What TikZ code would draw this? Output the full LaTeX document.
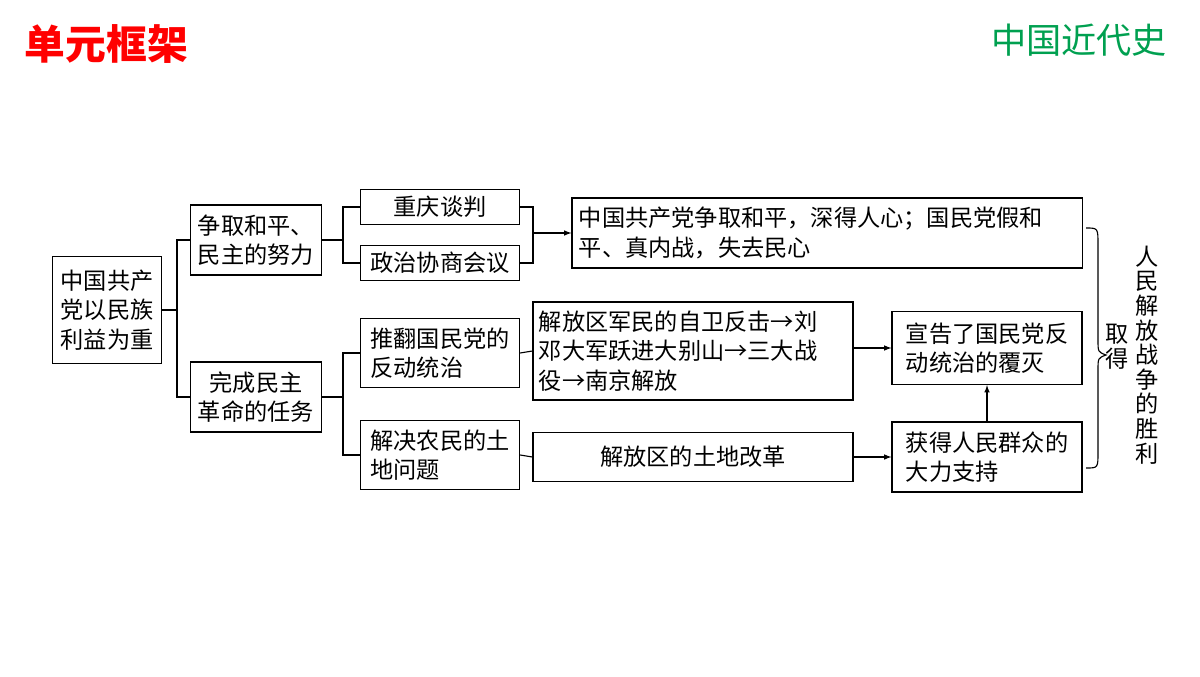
\documentclass[tikz,border=0pt]{standalone}
\usepackage{fontspec}
\setmainfont{Noto Sans CJK SC}
\newfontfamily\cjk{Noto Sans CJK SC}
\tikzset{>=latex}
\tikzset{
  box/.style={draw=black, thick, fill=white, align=left, inner sep=2pt,
    font=\fontsize{16.5}{21}\selectfont},
  link/.style={draw=black, thick},
}
\begin{document}
\begin{tikzpicture}[x=0.025cm, y=-0.025cm]
  \useasboundingbox (0,0) rectangle (1200,676);
  \node[font=\fontsize{29}{32}\selectfont\bfseries, text=red, anchor=west] (title) at (20,44) {单元框架};
  \node[font=\fontsize{25}{28}\selectfont, text={rgb,255:red,0;green,160;blue,80}, anchor=east] (unit) at (1172,40) {中国近代史};

  \node[box, minimum width=2.73cm, minimum height=2.68cm, align=center] (root) at (107,310) {中国共产\\党以民族\\利益为重};
  \node[box, minimum width=3.28cm, minimum height=1.75cm] (peace) at (256,240) {争取和平、\\民主的努力};
  \node[box, minimum width=3.28cm, minimum height=1.75cm, align=center] (task) at (256,397) {完成民主\\革命的任务};
  \node[box, minimum width=3.98cm, minimum height=0.88cm] (talks) at (440,207) {重庆谈判};
  \node[box, minimum width=3.98cm, minimum height=0.88cm] (pcc) at (440,263) {政治协商会议};
  \node[box, minimum width=3.98cm, minimum height=1.73cm] (topple) at (440,353) {推翻国民党的\\反动统治};
  \node[box, minimum width=3.98cm, minimum height=1.73cm] (land) at (440,455) {解决农民的土\\地问题};
  \node[box, minimum width=12.75cm, minimum height=1.75cm, text width=12.4cm] (effort) at (827,233) {中国共产党争取和平，深得人心；国民党假和\\平、真内战，失去民心};
  \node[box, minimum width=8cm, minimum height=2.45cm, text width=7.7cm] (war) at (693,351) {解放区军民的自卫反击→刘\\邓大军跃进大别山→三大战\\役→南京解放};
  \node[box, minimum width=8cm, minimum height=1.23cm] (reform) at (693,457) {解放区的土地改革};
  \node[box, minimum width=4.75cm, minimum height=1.83cm] (end) at (987,348) {宣告了国民党反\\动统治的覆灭};
  \node[box, minimum width=4.75cm, minimum height=1.75cm] (support) at (987,457) {获得人民群众的\\大力支持};
  \coordinate (join) at (533,233);

  % tree lines
  \draw[link] (root.east) -- (177,310);
  \draw[link] (peace.west) -| (177,397) -- (task.west);
  \draw[link] (peace.east) -- (343,240);
  \draw[link] (talks.west) -| (343,263) -- (pcc.west);
  \draw[link] (task.east) -- (343,397);
  \draw[link] (topple.west) -| (343,455) -- (land.west);
  \draw[link] (talks.east) -| (533,263) -- (pcc.east);
  \draw[link,->] (join) -- (effort.west);
  \draw[link] (topple.east) -- (war.west);
  \draw[link] (land.east) -- (reform.west);
  \draw[link,->] (war.east |- end.west) -- (end.west);
  \draw[link,->] (reform.east) -- (support.west);
  \draw[link,->] (support.north) -- (end.south);

  % brace and result
  \draw[link] (1086,228) .. controls (1098,228) .. (1098,245) -- (1098,340)
    .. controls (1098,352) .. (1106,355) .. controls (1098,358) .. (1098,370)
    -- (1098,452) .. controls (1098,468) .. (1086,468);
  \node[font=\fontsize{16.5}{17.5}\selectfont, text width=0.6cm, align=center] (gain) at (1117,347) {取\\得};
  \node[font=\fontsize{16.5}{17.5}\selectfont, text width=0.6cm, align=center] (victory) at (1147,355) {人\\民\\解\\放\\战\\争\\的\\胜\\利};
\end{tikzpicture}
\end{document}
